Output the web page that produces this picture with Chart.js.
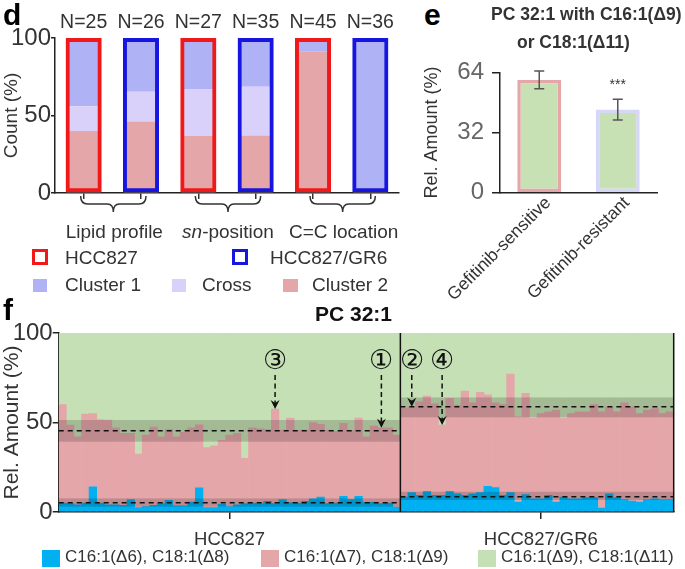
<!DOCTYPE html>
<html>
<head>
<meta charset="utf-8">
<script src="https://cdn.jsdelivr.net/npm/chart.js@4.4.1/dist/chart.umd.min.js"></script>
<style>
  body { margin: 0; background: #fff; width: 685px; height: 569px; position: relative; overflow: hidden;
         font-family: "Liberation Sans", Arial, sans-serif; color: #333; }
  canvas { position: absolute; }
  .t { position: absolute; white-space: nowrap; line-height: 1; }
  .sq { position: absolute; box-sizing: border-box; }
</style>
</head>
<body>
<canvas id="chartF" width="685" height="279" style="left:0;top:290px"></canvas>
<canvas id="chartD" width="410" height="250" style="left:0;top:0"></canvas>
<canvas id="chartE" width="265" height="280" style="left:420px;top:50px"></canvas>

<div class="t" style="left:3px;top:0;font-weight:bold;font-size:30px;color:#000">d</div>
<div class="t" style="left:424px;top:0;font-weight:bold;font-size:30px;color:#000">e</div>
<div class="t" style="left:3px;top:295px;font-weight:bold;font-size:30px;color:#000">f</div>

<!-- legend d -->
<div class="sq" style="left:32px;top:249px;width:16px;height:16px;border:3.5px solid #f01818"></div>
<div class="t" style="left:65px;top:248px;font-size:19px">HCC827</div>
<div class="sq" style="left:232px;top:249px;width:16px;height:16px;border:3.5px solid #1616e0"></div>
<div class="t" style="left:270px;top:248px;font-size:19px">HCC827/GR6</div>
<div class="sq" style="left:33px;top:279px;width:14px;height:13px;background:#b0b2f6"></div>
<div class="t" style="left:65px;top:275px;font-size:19px">Cluster 1</div>
<div class="sq" style="left:172px;top:279px;width:14px;height:13px;background:#dad1fa"></div>
<div class="t" style="left:202px;top:275px;font-size:19px">Cross</div>
<div class="sq" style="left:283px;top:279px;width:15px;height:13px;background:#e5a6aa"></div>
<div class="t" style="left:312px;top:275px;font-size:19px">Cluster 2</div>

<!-- title e -->
<div class="t" style="left:491px;top:6px;font-weight:bold;font-size:17.5px">PC 32:1 with C16:1(Δ9)</div>
<div class="t" style="left:517px;top:34px;font-weight:bold;font-size:17.5px">or C18:1(Δ11)</div>

<!-- title + legend f -->
<div class="t" style="left:315px;top:303px;font-weight:bold;font-size:21px;color:#111">PC 32:1</div>
<div class="sq" style="left:42px;top:550px;width:18px;height:17px;background:#00b0f0"></div>
<div class="t" style="left:65px;top:548px;font-size:17px">C16:1(Δ6), C18:1(Δ8)</div>
<div class="sq" style="left:261px;top:550px;width:18px;height:17px;background:#e5a6aa"></div>
<div class="t" style="left:284px;top:548px;font-size:17px">C16:1(Δ7), C18:1(Δ9)</div>
<div class="sq" style="left:478px;top:550px;width:18px;height:17px;background:#c5e0b4"></div>
<div class="t" style="left:501px;top:548px;font-size:17px">C16:1(Δ9), C18:1(Δ11)</div>

<script>
// ---- panel d: cluster composition (%)
const dCategories = ["HCC827 lipid profile", "HCC827/GR6 lipid profile", "HCC827 sn-position",
                     "HCC827/GR6 sn-position", "HCC827 C=C location", "HCC827/GR6 C=C location"];
const dCounts = ["N=25", "N=26", "N=27", "N=35", "N=45", "N=36"];
const dCellLine = ["HCC827", "HCC827/GR6", "HCC827", "HCC827/GR6", "HCC827", "HCC827/GR6"];
const dCluster2 = [40, 46.2, 37, 37.1, 91.1, 2.8];
const dCross = [16, 19.2, 29.7, 31.5, 0, 0];
const dCluster1 = [44, 34.6, 33.3, 31.4, 8.9, 97.2];
const dOutline = [100, 100, 100, 100, 100, 100];
const dGroups = ["Lipid profile", "sn-position", "C=C location"];

// ---- panel e: PC 32:1 with C16:1(Δ9) or C18:1(Δ11)
const eCategories = ["Gefitinib-sensitive", "Gefitinib-resistant"];
const eMeans = [60, 44.2];
const eErrors = [4.7, 5.5];
const eSignif = ["", "***"];

// ---- panel f: PC 32:1 isomer composition per sample
const fGroupNames = ["HCC827", "HCC827/GR6"];
const hccDelta6 = [5, 4.7, 4, 5, 14, 5, 4, 4, 3.7, 7, 2.4, 3, 3.7, 4.7, 6.5, 3.5, 3.5, 5.5, 13.5, 2.4,
                   2.4, 4.3, 3, 4, 4.7, 5, 4.7, 6, 4.7, 6.9, 5.2, 5, 6, 7.4, 8.4, 4.7, 5, 8.7, 6.9, 8.7,
                   5.4, 5.4, 4.7, 5, 2.8];
const hccDelta7 = [55, 43.9, 38, 49.7, 41, 46.7, 47.3, 43, 40.3, 37, 30, 40, 43.8, 37.3, 39.5, 38.5, 41, 41.5, 35.2, 33.6,
                   34.6, 35.7, 40, 40, 25.3, 42, 41.8, 40, 52.8, 38.8, 47.3, 40.7, 39.7, 42.6, 40.6, 41, 40, 40.8, 38.6, 43.8,
                   36.6, 42.6, 42.3, 42, 40.2];
const hccDelta9 = [40, 51.4, 58, 45.3, 45, 48.3, 48.7, 53, 56, 56, 67.6, 57, 52.5, 58, 54, 58, 55.5, 53, 51.3, 64,
                   63, 60, 57, 56, 70, 53, 53.5, 54, 42.5, 54.3, 47.5, 54.3, 54.3, 50, 51, 54.3, 55, 50.5, 54.5, 47.5,
                   58, 52, 53, 53, 57];
const gr6Delta6 = [8.4, 10.8, 9.3, 11.5, 9.3, 9.3, 11.5, 10.2, 9.3, 10.2, 10.8, 14.3, 13.6, 9.3, 10.8, 5.6, 9.7, 7.4,
                   7.4, 9.3, 5.6, 8.4, 7.4, 7.4, 8, 8, 2.2, 10.2, 8, 7, 6.1, 5.6, 7, 7.4, 7, 7];
const gr6Delta7 = [49.6, 48, 52.3, 53.3, 51.3, 39.3, 52, 49.6, 58.3, 50.8, 56.1, 51.1, 47.4, 50.7, 66.2, 47.6, 56.6, 44.9,
                   47.6, 46.6, 51.3, 43.9, 47.6, 48.6, 48, 52, 53.8, 48.5, 48, 54, 52.6, 49.4, 50, 50.4, 48, 49];
const gr6Delta9 = [42, 41.2, 38.4, 35.2, 39.4, 51.4, 36.5, 40.2, 32.4, 39, 33.1, 34.6, 39, 40, 23, 46.8, 33.7, 47.7,
                   45, 44.1, 43.1, 47.7, 45, 44, 44, 40, 44, 41.3, 44, 39, 41.3, 45, 43, 42.2, 45, 44];
const hccMeanLines = [45.4, 5.2];
const hccBands = [[39.3, 51.4], [3, 7.6]];
const gr6MeanLines = [58.8, 8.5];
const gr6Bands = [[52.9, 64], [6.7, 11.3]];
const fMarkers = [["①", 42], ["②", 46], ["③", 28], ["④", 50]];

const FONT = '"Liberation Sans", Arial, sans-serif';
Chart.defaults.font.family = FONT;
Chart.defaults.animation = false;
Chart.defaults.plugins.legend.display = false;
Chart.defaults.plugins.tooltip.enabled = false;

const PINK = "#e5a6aa", GREEN = "#c5e0b4", CYAN = "#00b0f0";
const RED = "#f01818", BLUE = "#1616e0";

// ---------------- panel d ----------------
const dDecor = {
    id: "dDecor",
    afterDraw(chart) {
        const ctx = chart.ctx, x = chart.scales.x;
        ctx.save();
        ctx.strokeStyle = "#333";
        ctx.lineWidth = 1.5;
        dGroups.forEach((g, k) => {
            const x1 = x.getPixelForValue(2 * k) - 3, x2 = x.getPixelForValue(2 * k + 1) + 5;
            const xm = (x1 + x2) / 2, y = 196;
            ctx.beginPath();
            ctx.moveTo(x1, y);
            ctx.quadraticCurveTo(x1, y + 8, x1 + 7, y + 8);
            ctx.lineTo(xm - 6, y + 8);
            ctx.quadraticCurveTo(xm, y + 8, xm, y + 16);
            ctx.quadraticCurveTo(xm, y + 8, xm + 6, y + 8);
            ctx.lineTo(x2 - 7, y + 8);
            ctx.quadraticCurveTo(x2, y + 8, x2, y);
            ctx.stroke();

            ctx.fillStyle = "#333";
            ctx.textBaseline = "middle";
            ctx.textAlign = "left";
            if (g.startsWith("sn")) {
                ctx.font = "italic 19px " + FONT;
                const w1 = ctx.measureText("sn").width;
                ctx.font = "19px " + FONT;
                const w2 = ctx.measureText(g.slice(2)).width;
                const start = xm - (w1 + w2) / 2;
                ctx.font = "italic 19px " + FONT;
                ctx.fillText("sn", start, 233);
                ctx.font = "19px " + FONT;
                ctx.fillText(g.slice(2), start + w1, 233);
            } else {
                ctx.font = "19px " + FONT;
                ctx.textAlign = "center";
                ctx.fillText(g, xm + 1, 233);
            }
        });
        ctx.restore();
    }
};

new Chart(document.getElementById("chartD"), {
    type: "bar",
    data: {
        labels: dCategories,
        datasets: [
            { label: "outline", data: dOutline, stack: "o", order: 0,
              backgroundColor: "rgba(0,0,0,0)", borderSkipped: false, borderWidth: 4,
              borderColor: dCellLine.map(c => c === "HCC827" ? RED : BLUE),
              barPercentage: 0.63 },
            { label: "Cluster 2", data: dCluster2, stack: "s", order: 1, backgroundColor: PINK, barPercentage: 0.6 },
            { label: "Cross", data: dCross, stack: "s", order: 1, backgroundColor: "#dad1fa", barPercentage: 0.6 },
            { label: "Cluster 1", data: dCluster1, stack: "s", order: 1, backgroundColor: "#b0b2f6", barPercentage: 0.6 }
        ].map(d => Object.assign(d, { grouped: false, categoryPercentage: 1, xAxisID: "x", yAxisID: "y" }))
    },
    options: {
        responsive: false,
        layout: { autoPadding: false, padding: { right: 11 } },
        scales: {
            x: {
                offset: true,
                grid: { drawOnChartArea: false, offset: false, tickLength: 6, color: "#333", lineWidth: 1.5 },
                border: { color: "#222", width: 1.5 },
                ticks: { callback: () => "", padding: 0 },
                afterFit: s => { s.height = 57; }
            },
            xt: {
                type: "category", labels: dCounts, position: "top", offset: true,
                grid: { display: false, drawTicks: false },
                border: { display: false },
                ticks: { font: { size: 19.5 }, color: "#333", padding: 4 },
                afterFit: s => { s.height = 38; }
            },
            y: {
                stacked: true, min: 0, max: 100,
                ticks: { stepSize: 50, font: { size: 24 }, color: "#333", padding: 0 },
                grid: { drawOnChartArea: false, tickLength: 4, color: "#222", lineWidth: 1.5 },
                border: { color: "#222", width: 1.5 },
                title: { display: true, text: "Count (%)", font: { size: 19 }, color: "#333", padding: 0 },
                afterFit: s => { s.width = 55; }
            }
        }
    },
    plugins: [dDecor]
});

// ---------------- panel e ----------------
const eErrorBars = {
    id: "eErrorBars",
    afterDatasetsDraw(chart) {
        const ctx = chart.ctx, y = chart.scales.y;
        const meta = chart.getDatasetMeta(0);
        ctx.save();
        ctx.strokeStyle = "#555";
        ctx.lineWidth = 1.5;
        meta.data.forEach((bar, i) => {
            const top = y.getPixelForValue(eMeans[i] + eErrors[i]);
            const bot = y.getPixelForValue(eMeans[i] - eErrors[i]);
            ctx.beginPath();
            ctx.moveTo(bar.x, top); ctx.lineTo(bar.x, bot);
            ctx.moveTo(bar.x - 5, top); ctx.lineTo(bar.x + 5, top);
            ctx.moveTo(bar.x - 5, bot); ctx.lineTo(bar.x + 5, bot);
            ctx.stroke();
            if (eSignif[i]) {
                ctx.fillStyle = "#333";
                ctx.font = "14px " + FONT;
                ctx.textAlign = "center";
                ctx.textBaseline = "middle";
                ctx.fillText(eSignif[i], bar.x, top - 14);
            }
        });
        ctx.restore();
    }
};

new Chart(document.getElementById("chartE"), {
    type: "bar",
    data: {
        labels: eCategories,
        datasets: [{
            data: eMeans,
            backgroundColor: "#c7e1b5",
            borderColor: [PINK, "#d6d6f8"],
            borderWidth: 3.5,
            borderSkipped: false,
            barPercentage: 0.56,
            categoryPercentage: 1
        }]
    },
    options: {
        responsive: false,
        layout: { autoPadding: false, padding: { top: 18, right: 28 } },
        scales: {
            x: {
                grid: { display: false },
                border: { color: "#222", width: 1.5 },
                ticks: { font: { size: 17.5 }, color: "#333", minRotation: 45, maxRotation: 45, autoSkip: false,
                         padding: -8, labelOffset: 9 },
                afterFit: s => { s.height = 137.3; }
            },
            y: {
                min: 0, max: 64,
                ticks: { stepSize: 32, font: { size: 24 }, color: "#666", padding: 8 },
                grid: { drawOnChartArea: false, tickLength: 8, color: "#222", lineWidth: 1.5 },
                border: { color: "#222", width: 1.5 },
                title: { display: true, text: "Rel. Amount (%)", font: { size: 18 }, color: "#333", padding: 1 },
                afterFit: s => { s.width = 80; }
            }
        }
    },
    plugins: [eErrorBars]
});

// ---------------- panel f ----------------
const fCategories = hccDelta6.map((_, i) => fGroupNames[0] + " #" + (i + 1))
    .concat(gr6Delta6.map((_, i) => fGroupNames[1] + " #" + (i + 1)));
const nHcc = hccDelta6.length;
const fLabelIndex = [Math.floor(nHcc / 2), nHcc + Math.floor(gr6Delta6.length / 2)];

const fDecor = {
    id: "fDecor",
    afterDatasetsDraw(chart) {
        const ctx = chart.ctx, x = chart.scales.x, y = chart.scales.y, area = chart.chartArea;
        const divider = (x.getPixelForValue(nHcc - 1) + x.getPixelForValue(nHcc)) / 2;
        const spans = [[area.left, divider, hccBands, hccMeanLines], [divider, area.right, gr6Bands, gr6MeanLines]];
        ctx.save();
        spans.forEach(([x1, x2, bands, means]) => {
            ctx.fillStyle = "rgba(0,0,0,0.17)";
            bands.forEach(([lo, hi]) => {
                const yt = y.getPixelForValue(hi), yb = y.getPixelForValue(lo);
                ctx.fillRect(x1, yt, x2 - x1, yb - yt);
            });
            ctx.strokeStyle = "#111";
            ctx.lineWidth = 1.5;
            ctx.setLineDash([5, 4]);
            means.forEach(m => {
                const yy = y.getPixelForValue(m);
                ctx.beginPath(); ctx.moveTo(x1, yy); ctx.lineTo(x2, yy); ctx.stroke();
            });
            ctx.setLineDash([]);
        });
        // divider and right frame
        ctx.strokeStyle = "#111";
        ctx.lineWidth = 1.5;
        ctx.beginPath();
        ctx.moveTo(divider, area.top); ctx.lineTo(divider, area.bottom);
        ctx.moveTo(area.right, area.top); ctx.lineTo(area.right, area.bottom);
        ctx.stroke();
        // circled markers with dashed arrows
        const d6 = chart.data.datasets[0].data, d7 = chart.data.datasets[1].data;
        fMarkers.forEach(([txt, idx]) => {
            const xx = x.getPixelForValue(idx);
            const tip = y.getPixelForValue(d6[idx] + d7[idx]);
            const y0 = area.top + 29;
            ctx.fillStyle = "#111";
            ctx.font = "27px " + FONT;
            ctx.textAlign = "center";
            ctx.textBaseline = "middle";
            ctx.fillText(txt, xx, y0);
            ctx.setLineDash([5, 3.5]);
            ctx.lineWidth = 1.5;
            ctx.beginPath(); ctx.moveTo(xx, y0 + 13); ctx.lineTo(xx, tip - 6); ctx.stroke();
            ctx.setLineDash([]);
            ctx.beginPath();
            ctx.moveTo(xx - 4.5, tip - 9); ctx.lineTo(xx, tip); ctx.lineTo(xx + 4.5, tip - 9);
            ctx.lineTo(xx, tip - 6); ctx.closePath(); ctx.fill();
        });
        ctx.restore();
    }
};

new Chart(document.getElementById("chartF"), {
    type: "bar",
    data: {
        labels: fCategories,
        datasets: [
            { label: "C16:1(Δ6), C18:1(Δ8)", data: hccDelta6.concat(gr6Delta6), backgroundColor: CYAN },
            { label: "C16:1(Δ7), C18:1(Δ9)", data: hccDelta7.concat(gr6Delta7), backgroundColor: PINK },
            { label: "C16:1(Δ9), C18:1(Δ11)", data: hccDelta9.concat(gr6Delta9), backgroundColor: GREEN }
        ].map(d => Object.assign(d, { barPercentage: 1, categoryPercentage: 1, borderWidth: 0 }))
    },
    options: {
        responsive: false,
        layout: { autoPadding: false, padding: { top: 43, right: 11.3 } },
        scales: {
            x: {
                stacked: true, offset: true,
                grid: {
                    drawOnChartArea: false, offset: false, tickLength: 7, lineWidth: 1.5,
                    color: c => fLabelIndex.includes(c.index) ? "#222" : "rgba(0,0,0,0)"
                },
                border: { color: "#111", width: 1.5 },
                ticks: {
                    autoSkip: false, maxRotation: 0, font: { size: 18.5 }, color: "#333", padding: 10,
                    callback: (v, i) => i === fLabelIndex[0] ? fGroupNames[0] : (i === fLabelIndex[1] ? fGroupNames[1] : "")
                },
                afterFit: s => { s.height = 57; }
            },
            y: {
                stacked: true, min: 0, max: 100,
                ticks: { stepSize: 50, font: { size: 24 }, color: "#333", padding: 0 },
                grid: { drawOnChartArea: false, tickLength: 6, color: "#222", lineWidth: 1.5 },
                border: { color: "#111", width: 1.5 },
                title: { display: true, text: "Rel. Amount (%)", font: { size: 21 }, color: "#333", padding: 0 },
                afterFit: s => { s.width = 58.7; }
            }
        }
    },
    plugins: [fDecor]
});
</script>
</body>
</html>
